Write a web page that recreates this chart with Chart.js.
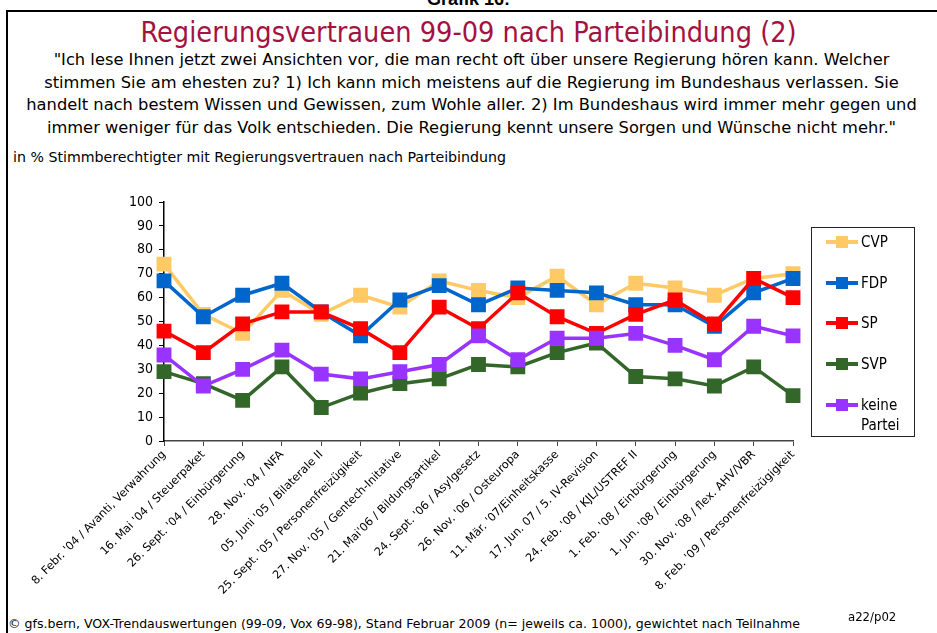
<!DOCTYPE html>
<html>
<head>
<meta charset="utf-8">
<script src="https://cdn.jsdelivr.net/npm/chart.js@4.4.0/dist/chart.umd.min.js"></script>
<style>
  html, body { margin: 0; padding: 0; background: #fff; }
  body { width: 937px; height: 633px; position: relative; overflow: hidden; font-family: "DejaVu Sans", sans-serif; color: #000; }
  .frame { position: absolute; left: 6px; top: 10px; width: 960px; height: 700px; border: 2px solid #000; box-sizing: border-box; }
  .abs { position: absolute; white-space: nowrap; }
  #grafik { left: 0; width: 937px; top: -11px; text-align: center; font: bold 18px "Liberation Sans", Arial, sans-serif; }
  #title { left: 0; width: 937px; top: 15px; text-align: center; color: #A5123F; font-size: 28.6px; font-family: "Liberation Sans Narrow", "DejaVu Sans Condensed", sans-serif; }
  #quote { left: 3px; width: 937px; top: 49px; text-align: center; font-size: 16.3px; line-height: 22.7px; font-family: "DejaVu Sans", sans-serif; }
  #sub { left: 13px; top: 149px; font-size: 14.2px; font-family: "DejaVu Sans", sans-serif; }
  #foot { left: 8px; top: 616px; font-size: 12.55px; font-family: "DejaVu Sans", sans-serif; }
  #code { left: 848px; top: 609px; font-size: 13px; font-family: "DejaVu Sans Condensed", "DejaVu Sans", sans-serif; }
  #chartWrap { position: absolute; left: 0; top: 180px; width: 937px; height: 430px; }
  #legend { position: absolute; left: 811px; top: 227px; width: 104px; height: 210px; border: 1px solid #222; box-sizing: border-box; font-size: 15px; font-family: "DejaVu Sans Condensed", "DejaVu Sans", sans-serif; }
  .item { position: absolute; left: 14px; }
  .swatch { position: absolute; left: 0; top: 0; width: 32px; height: 12px; }
  .swatch .ln { position: absolute; left: 0; top: 4px; width: 32px; height: 4px; }
  .swatch .sq { position: absolute; left: 10px; top: 0; width: 12px; height: 12px; }
  .lbl { position: absolute; left: 35px; top: -4px; line-height: 20px; }
</style>
</head>
<body>
<div class="frame"></div>
<div class="abs" id="grafik">Grafik 16:</div>
<div class="abs" id="title">Regierungsvertrauen 99-09 nach Parteibindung (2)</div>
<div class="abs" id="quote">"Ich lese Ihnen jetzt zwei Ansichten vor, die man recht oft über unsere Regierung hören kann. Welcher<br>stimmen Sie am ehesten zu? 1) Ich kann mich meistens auf die Regierung im Bundeshaus verlassen. Sie<br>handelt nach bestem Wissen und Gewissen, zum Wohle aller. 2) Im Bundeshaus wird immer mehr gegen und<br>immer weniger für das Volk entschieden. Die Regierung kennt unsere Sorgen und Wünsche nicht mehr."</div>
<div class="abs" id="sub">in % Stimmberechtigter mit Regierungsvertrauen nach Parteibindung</div>
<div id="chartWrap"><canvas id="chart"></canvas></div>
<div id="legend"></div>
<div class="abs" id="foot">© gfs.bern, VOX-Trendauswertungen (99-09, Vox 69-98), Stand Februar 2009 (n= jeweils ca. 1000), gewichtet nach Teilnahme</div>
<div class="abs" id="code">a22/p02</div>

<script>
'use strict';

// ---- Data ----
const labels = [
  "8. Febr. '04 / Avanti, Verwahrung",
  "16. Mai '04 / Steuerpaket",
  "26. Sept. '04 / Einbürgerung",
  "28. Nov. '04 / NFA",
  "05. Juni '05 / Bilaterale II",
  "25. Sept. '05 / Personenfreizügikeit",
  "27. Nov. '05 / Gentech-Initative",
  "21. Mai'06 / Bildungsartikel",
  "24. Sept. '06 / Asylgesetz",
  "26. Nov. '06 / Osteuropa",
  "11. Mär. '07/Einheitskasse",
  "17. Jun. 07 / 5. IV-Revision",
  "24. Feb. '08 / KJL/USTREF II",
  "1. Feb. '08 / Einbürgerung",
  "1. Jun. '08 / Einbürgerung",
  "30. Nov. '08 / flex. AHV/VBR",
  "8. Feb. '09 / Personenfreizügigkeit"
];
const cvp   = [74, 53, 45, 63, 53, 61, 56, 67, 63, 60, 69, 57, 66, 64, 61, 68, 70];
const fdp   = [67, 52, 61, 66, 54, 44, 59, 65, 57, 64, 63, 62, 57, 57, 48, 62, 68];
const sp    = [46, 37, 49, 54, 54, 47, 37, 56, 47, 62, 52, 45, 53, 59, 49, 68, 60];
const svp   = [29, 24, 17, 31, 14, 20, 24, 26, 32, 31, 37, 41, 27, 26, 23, 31, 19];
const keine = [36, 23, 30, 38, 28, 26, 29, 32, 44, 34, 43, 43, 45, 40, 34, 48, 44];
const yTicks = [0, 10, 20, 30, 40, 50, 60, 70, 80, 90, 100];

const series = [
  { label: 'CVP',          data: cvp,   color: '#FFC966' },
  { label: 'FDP',          data: fdp,   color: '#0066CC' },
  { label: 'SP',           data: sp,    color: '#FF0000' },
  { label: 'SVP',          data: svp,   color: '#336629' },
  { label: 'keine Partei', data: keine, color: '#9933FF' },
];

const FONT = '"DejaVu Sans", sans-serif';

const datasets = series.map((s, i) => ({
  label: s.label,
  data: s.data,
  borderColor: s.color,
  backgroundColor: s.color,
  borderWidth: 3.5,
  pointStyle: 'rect',
  pointRadius: 10.5,
  pointBorderWidth: 0,
  tension: 0,
  order: series.length - i,
}));

new Chart(document.getElementById('chart'), {
  type: 'line',
  data: { labels, datasets },
  options: {
    responsive: true,
    maintainAspectRatio: false,
    animation: false,
    events: [],
    layout: { padding: { left: 0, top: 22, right: 144, bottom: 0 } },
    plugins: { legend: { display: false }, tooltip: { enabled: false } },
    scales: {
      x: {
        offset: false,
        afterFit: (s) => { s.height = 169; },
        border: { color: '#444', width: 1.5 },
        grid: { drawOnChartArea: false, drawTicks: true, tickLength: 5, color: '#444' },
        ticks: {
          autoSkip: false, minRotation: 45, maxRotation: 45,
          color: '#000', padding: 2,
          font: { family: FONT, size: 11.3 },
        },
      },
      y: {
        min: 0, max: 100,
        afterFit: (s) => { s.width = 164; },
        afterBuildTicks: (s) => { s.ticks = yTicks.map(v => ({ value: v })); },
        border: { color: '#000', width: 1.5 },
        grid: { drawOnChartArea: false, drawTicks: true, tickLength: 5, color: '#000' },
        ticks: { color: '#000', padding: 6, font: { family: '"DejaVu Sans Condensed", "DejaVu Sans", sans-serif', size: 14 } },
      },
    },
  },
});

// ---- Legend (HTML) ----
const legendTops = [8, 49, 89, 130, 171];
const lg = document.getElementById('legend');
series.forEach((s, i) => {
  const it = document.createElement('div');
  it.className = 'item';
  it.style.top = legendTops[i] + 'px';
  it.innerHTML = '<div class="swatch"><div class="ln" style="background:' + s.color + '"></div>' +
    '<div class="sq" style="background:' + s.color + '"></div></div>' +
    '<div class="lbl">' + s.label.replace(' ', '<br>') + '</div>';
  lg.appendChild(it);
});
</script>
</body>
</html>
